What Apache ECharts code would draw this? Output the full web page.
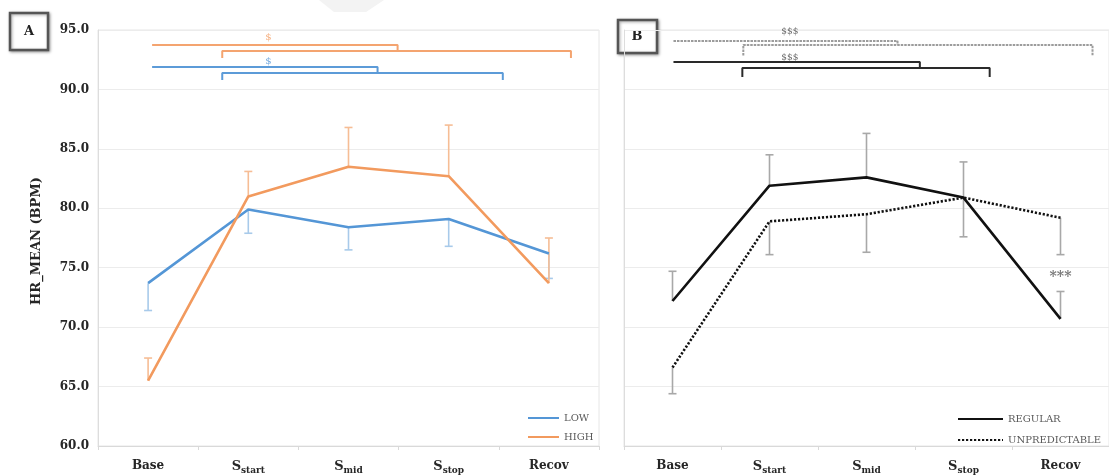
<!DOCTYPE html>
<html>
<head>
<meta charset="utf-8">
<script src="https://cdn.jsdelivr.net/npm/echarts@6/dist/echarts.min.js"></script>
<style>
  html, body { margin: 0; padding: 0; background: #ffffff; }
  #chart { width: 1109px; height: 476px; }
</style>
</head>
<body>
<div id="chart"></div>
<script>
// Phases of the protocol (x axis of both panels)
const categories = ['Base', 'S_start', 'S_mid', 'S_stop', 'Recov'];
// HR_MEAN axis ticks (bpm)
const yTicks = [60, 65, 70, 75, 80, 85, 90, 95];

// Panel A: LOW vs HIGH groups, mean and SD
const lowMean  = [73.7, 79.9, 78.4, 79.1, 76.2];
const lowSD    = [2.3, 2.0, 1.9, 2.3, 2.1];
const highMean = [65.5, 81.0, 83.5, 82.7, 73.7];
const highSD   = [1.9, 2.1, 3.3, 4.3, 3.8];

// Panel B: REGULAR vs UNPREDICTABLE groups, mean and SD
const regularMean = [72.2, 81.9, 82.6, 80.9, 70.7];
const regularSD   = [2.5, 2.6, 3.7, 3.0, 2.3];
const unpredMean  = [66.6, 78.9, 79.5, 80.9, 79.2];
const unpredSD    = [2.2, 2.8, 3.2, 3.3, 3.1];

// Significance brackets: span in category units, level and drops in bpm
const sigHigh = [
  { from: 0.04, to: 2.49, level: 93.74, drops: [null, 93.23] },
  { from: 0.74, to: 4.22, level: 93.23, drops: [92.64, 92.64] }
];
const sigLow = [
  { from: 0.04, to: 2.29, level: 91.89, drops: [null, 91.38] },
  { from: 0.74, to: 3.54, level: 91.38, drops: [90.79, 90.79] }
];
const sigUnpred = [
  { from: 0.01, to: 2.32, level: 94.07, drops: [null, 93.74] },
  { from: 0.73, to: 4.33, level: 93.74, drops: [92.85, 92.85] }
];
const sigRegular = [
  { from: 0.01, to: 2.55, level: 92.31, drops: [null, 91.80] },
  { from: 0.72, to: 3.27, level: 91.80, drops: [91.04, 91.04] }
];
// Marker texts: [category position, bpm, text]
const sigMarksA = [[1.20, 94.41, '$'], [1.20, 92.39, '$']];
const sigMarksB = [[1.21, 94.83, '$$$'], [1.21, 92.70, '$$$']];
const recovMark = [[4, 74.2, '***']];

const SERIF = 'DejaVu Serif';
const yMin = yTicks[0], yMax = yTicks[yTicks.length - 1];
const yStep = yTicks[1] - yTicks[0];

function bracketPath(b) {
  const pts = [];
  if (b.drops[0] != null) pts.push([b.from, b.drops[0]]);
  pts.push([b.from, b.level]);
  pts.push([b.to, b.level]);
  if (b.drops[1] != null) pts.push([b.to, b.drops[1]]);
  return pts;
}

function bracketSeries(list, axisIdx, style) {
  return list.map(b => ({
    type: 'line',
    xAxisIndex: axisIdx, yAxisIndex: axisIdx - 2,
    data: bracketPath(b),
    symbol: 'none', silent: true, z: 3,
    lineStyle: style, animation: false
  }));
}

function errorSeries(mean, sd, dir, xIdx, yIdx, color) {
  return {
    type: 'custom', xAxisIndex: xIdx, yAxisIndex: yIdx, z: 1, silent: true,
    data: mean.map((m, i) => [i, m, m + dir * sd[i]]),
    renderItem: function (params, api) {
      const p0 = api.coord([api.value(0), api.value(1)]);
      const p1 = api.coord([api.value(0), api.value(2)]);
      const style = { stroke: color, lineWidth: 1.6 };
      return {
        type: 'group',
        children: [
          { type: 'line', shape: { x1: p0[0], y1: p0[1], x2: p1[0], y2: p1[1] }, style: style },
          { type: 'line', shape: { x1: p1[0] - 4, y1: p1[1], x2: p1[0] + 4, y2: p1[1] }, style: style }
        ]
      };
    },
    animation: false
  };
}

function markSeries(marks, xIdx, yIdx, textStyle) {
  return {
    type: 'scatter', xAxisIndex: xIdx, yAxisIndex: yIdx, z: 4, silent: true,
    symbolSize: 0,
    data: marks.map(m => ({ value: [m[0], m[1]], name: m[2] })),
    label: Object.assign({ show: true, position: 'inside', formatter: p => p.name, fontFamily: SERIF }, textStyle),
    animation: false
  };
}

const catLabel = {
  margin: 13,
  interval: 0,
  formatter: v => v.startsWith('S_') ? '{s|S}{sub|' + v.slice(2) + '}' : '{b|' + v + '}',
  rich: {
    b:   { fontFamily: SERIF, fontWeight: 'bold', fontSize: 12, color: '#262626', lineHeight: 14 },
    s:   { fontFamily: SERIF, fontWeight: 'bold', fontSize: 13, color: '#262626', lineHeight: 16 },
    sub: { fontFamily: SERIF, fontWeight: 'bold', fontSize: 9, color: '#262626', lineHeight: 9, verticalAlign: 'bottom' }
  }
};

function catAxis(gridIndex) {
  return {
    type: 'category', gridIndex: gridIndex, data: categories, boundaryGap: true,
    axisLine: { show: true, onZero: false, lineStyle: { color: '#D9D9D9', width: 1 } },
    axisTick: { show: true, length: 4, lineStyle: { color: '#D9D9D9' } },
    axisLabel: catLabel,
    splitLine: { show: false }
  };
}

function posAxis(gridIndex) {
  return { type: 'value', gridIndex: gridIndex, min: -0.5, max: 4.5, show: false,
           axisLine: { onZero: false }, splitLine: { show: false } };
}

function valAxis(gridIndex, showLabels) {
  return {
    type: 'value', gridIndex: gridIndex, min: yMin, max: yMax, interval: yStep,
    axisLine: { show: true, onZero: false, lineStyle: { color: '#DDDDDD' } },
    axisTick: { show: false },
    axisLabel: {
      show: showLabels, margin: 9, formatter: v => v.toFixed(1),
      fontFamily: SERIF, fontWeight: 'bold', fontSize: 12, color: '#262626'
    },
    splitLine: { show: true, lineStyle: { color: '#ECECEC', width: 1 } }
  };
}

const blue = '#5496D6', blueErr = '#A8CAEA';
const orange = '#F29A5E', orangeErr = '#F6BD95';
const black = '#111111', greyErr = '#A8A8A8';

const legendText = { fontFamily: SERIF, fontSize: 10, color: '#595959' };

const option = {
  backgroundColor: '#ffffff',
  animation: false,
  grid: [
    { left: 98, top: 30, width: 501, height: 416, show: true, borderColor: '#E6E6E6', borderWidth: 1 },
    { left: 624, top: 30, width: 486, height: 416, show: true, borderColor: '#E6E6E6', borderWidth: 1 }
  ],
  xAxis: [catAxis(0), catAxis(1), posAxis(0), posAxis(1)],
  yAxis: [valAxis(0, true), valAxis(1, false)],
  legend: [
    {
      data: ['LOW', 'HIGH'], orient: 'vertical', left: 522, top: 408,
      itemWidth: 31, itemHeight: 10, itemGap: 9,
      itemStyle: { opacity: 0 },
      textStyle: legendText
    },
    {
      data: ['REGULAR', 'UNPREDICTABLE'], orient: 'vertical', left: 952, top: 409,
      itemWidth: 45, itemHeight: 12, itemGap: 11,
      itemStyle: { opacity: 0 },
      textStyle: legendText
    }
  ],
  series: [
    errorSeries(lowMean, lowSD, -1, 0, 0, blueErr),
    errorSeries(highMean, highSD, 1, 0, 0, orangeErr),
    errorSeries(regularMean, regularSD, 1, 1, 1, greyErr),
    errorSeries(unpredMean, unpredSD, -1, 1, 1, greyErr),
    {
      name: 'LOW', type: 'line', xAxisIndex: 0, yAxisIndex: 0, data: lowMean,
      symbol: 'none', z: 2, color: blue, lineStyle: { color: blue, width: 2.6 }
    },
    {
      name: 'HIGH', type: 'line', xAxisIndex: 0, yAxisIndex: 0, data: highMean,
      symbol: 'none', z: 2, color: orange, lineStyle: { color: orange, width: 2.6 }
    },
    {
      name: 'REGULAR', type: 'line', xAxisIndex: 1, yAxisIndex: 1, data: regularMean,
      symbol: 'none', z: 2, color: black, lineStyle: { color: black, width: 2.6 }
    },
    {
      name: 'UNPREDICTABLE', type: 'line', xAxisIndex: 1, yAxisIndex: 1, data: unpredMean,
      symbol: 'none', z: 2, color: black, lineStyle: { color: black, width: 2.6, type: [2.2, 1.8] }
    },
    ...bracketSeries(sigHigh, 2, { color: '#F4A470', width: 2 }),
    ...bracketSeries(sigLow, 2, { color: '#5C9BD8', width: 2 }),
    ...bracketSeries(sigUnpred, 3, { color: '#9C9C9C', width: 2, type: [2.5, 1] }),
    ...bracketSeries(sigRegular, 3, { color: '#2A2A2A', width: 2 }),
    markSeries(sigMarksA.slice(0, 1), 2, 0, { fontSize: 10, color: '#F29A5E' }),
    markSeries(sigMarksA.slice(1), 2, 0, { fontSize: 10, color: '#4F92D6' }),
    markSeries(sigMarksB, 3, 1, { fontSize: 9, color: '#444444' }),
    markSeries(recovMark, 1, 1, { fontSize: 14, fontWeight: 'bold', color: '#555555' })
  ],
  graphic: [
    // faint stroke at the top edge
    { type: 'polygon', shape: { points: [[319, 0], [384, 0], [366, 12], [334, 12]] },
      style: { fill: '#F3F3F3' }, z: 0 },
    // panel tags
    { type: 'rect', shape: { x: 10, y: 13, width: 38, height: 37 },
      style: { fill: '#ffffff', stroke: '#555555', lineWidth: 2.5,
               shadowBlur: 3, shadowColor: 'rgba(0,0,0,0.35)', shadowOffsetX: 1, shadowOffsetY: 1 } },
    { type: 'text', x: 29, y: 32,
      style: { text: 'A', font: 'bold 13px "DejaVu Serif"', fill: '#222', align: 'center', verticalAlign: 'middle' } },
    { type: 'rect', shape: { x: 618, y: 20, width: 39, height: 33 },
      style: { fill: '#ffffff', stroke: '#555555', lineWidth: 2.5,
               shadowBlur: 3, shadowColor: 'rgba(0,0,0,0.35)', shadowOffsetX: 1, shadowOffsetY: 1 } },
    { type: 'text', x: 637, y: 37,
      style: { text: 'B', font: 'bold 13px "DejaVu Serif"', fill: '#222', align: 'center', verticalAlign: 'middle' } },
    // y axis title
    { type: 'text', x: 37, y: 241, rotation: Math.PI / 2,
      style: { text: 'HR_MEAN (BPM)', font: 'bold 13px "DejaVu Serif"', fill: '#262626',
               align: 'center', verticalAlign: 'middle' } }
  ]
};

const chart = echarts.init(document.getElementById('chart'), null, { renderer: 'canvas' });
chart.setOption(option);
</script>
</body>
</html>
